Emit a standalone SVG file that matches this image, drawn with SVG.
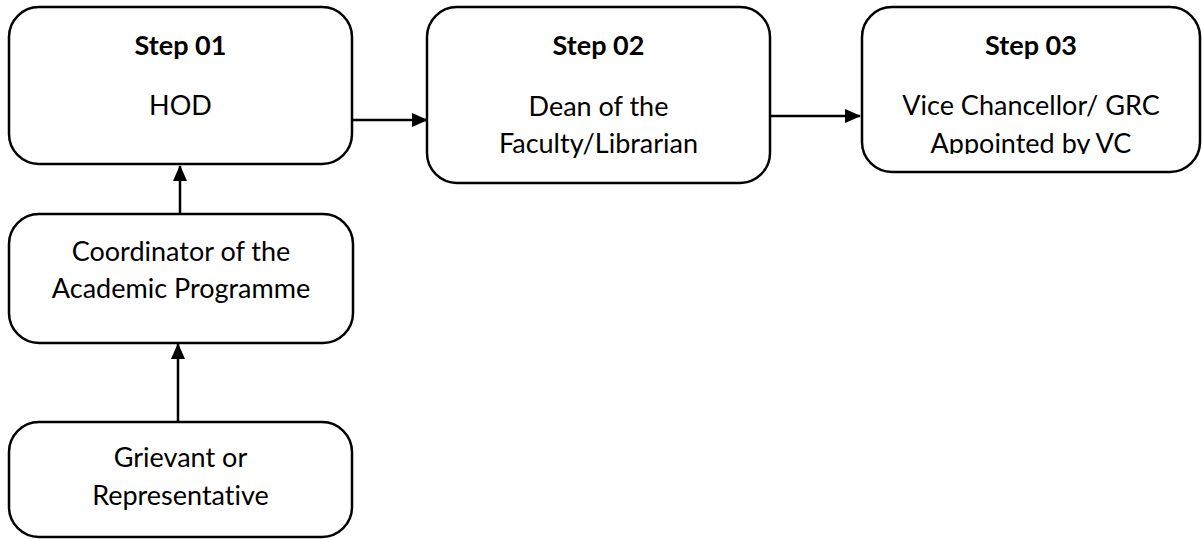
<svg xmlns="http://www.w3.org/2000/svg" width="1202" height="539" viewBox="0 0 1202 539">
<style>
.box{fill:#fff;stroke:#000;stroke-width:2.5}
.t{font-family:Lato,"Open Sans","Liberation Sans",sans-serif;font-size:27px;fill:#000;text-anchor:middle;font-variant-ligatures:none;font-feature-settings:"liga" 0,"dlig" 0}
.b{font-weight:bold}
.c{stroke:#000;stroke-width:2.5;fill:none;marker-end:url(#ah)}
</style>
<defs>
<marker id="ah" markerWidth="16" markerHeight="14" refX="15" refY="7" orient="auto" markerUnits="userSpaceOnUse">
<path d="M0,0 L16,7 L0,14 Z" fill="#000"/>
</marker>
<clipPath id="clip3"><rect x="862" y="7" width="340" height="147"/></clipPath>
</defs>
<rect width="1202" height="539" fill="#fff"/>
<g id="connectors">
<line class="c" x1="352" y1="120" x2="427" y2="120"/>
<line class="c" x1="770" y1="116" x2="860" y2="116"/>
<line class="c" x1="180" y1="214" x2="180" y2="166"/>
<line class="c" x1="178" y1="422" x2="178" y2="344"/>
</g>
<g id="step01">
<rect class="box" x="9" y="7" width="343" height="157" rx="30"/>
<text class="t b" x="180.5" y="55">Step 01</text>
<text class="t" x="180.5" y="115">HOD</text>
</g>
<g id="step02">
<rect class="box" x="427" y="7" width="343" height="176" rx="30"/>
<text class="t b" x="598.5" y="55">Step 02</text>
<text class="t" x="598.5" y="116">Dean of the</text>
<text class="t" x="598.5" y="153">Faculty/Librarian</text>
</g>
<g id="step03">
<rect class="box" x="862" y="7" width="338" height="165" rx="30"/>
<text class="t b" x="1031" y="55">Step 03</text>
<g clip-path="url(#clip3)">
<text class="t" x="1031" y="115">Vice Chancellor/ GRC</text>
<text class="t" x="1031" y="153">Appointed by VC</text>
</g>
</g>
<g id="coordinator">
<rect class="box" x="9" y="214" width="344" height="129" rx="30"/>
<text class="t" x="181" y="261">Coordinator of the</text>
<text class="t" x="181" y="298">Academic Programme</text>
</g>
<g id="grievant">
<rect class="box" x="9" y="422" width="343" height="115" rx="30"/>
<text class="t" x="180.5" y="467">Grievant or</text>
<text class="t" x="180.5" y="505">Representative</text>
</g>
</svg>
